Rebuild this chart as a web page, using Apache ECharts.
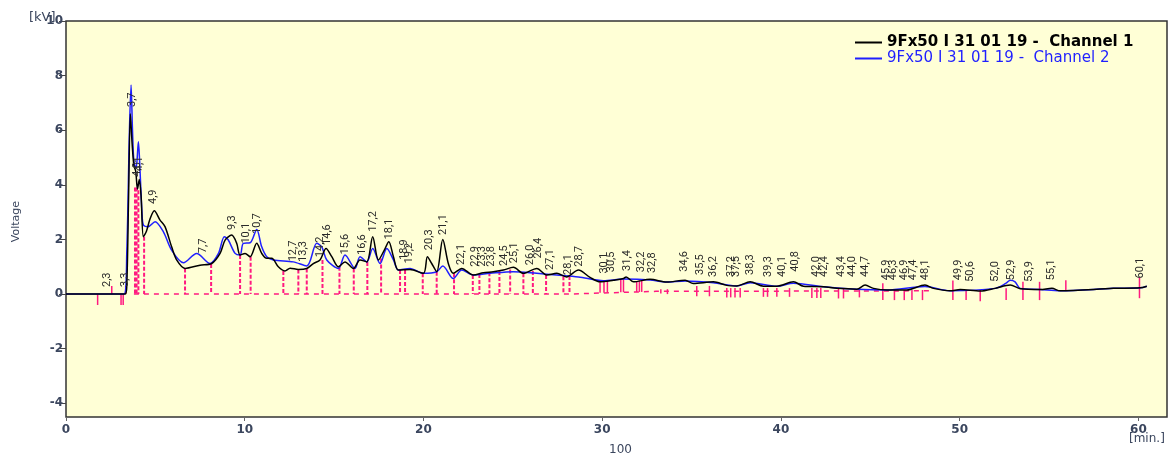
<!DOCTYPE html>
<html>
<head>
<meta charset="utf-8">
<script src="https://cdn.jsdelivr.net/npm/echarts@6/dist/echarts.min.js"></script>
<style>
html,body{margin:0;padding:0;background:#fff;}
#chart{width:1170px;height:453px;}
</style>
</head>
<body>
<div id="chart"></div>
<script>
// ---- data ----
const seriesNames = ['9Fx50 I 31 01 19 -  Channel 1', '9Fx50 I 31 01 19 -  Channel 2'];

const ch1Time = [0,3.3,3.4,3.5,3.6,3.7,3.8,3.9,4.0,4.1,4.2,4.33,4.5,4.7,4.94,5.26,5.54,5.91,6.19,6.66,7.5,8.15,8.62,8.9,9.27,9.55,9.74,10.02,10.3,10.67,10.95,11.23,11.51,11.88,12.25,12.54,13.0,13.47,13.84,14.21,14.55,14.87,15.24,15.61,16.08,16.45,16.83,17.16,17.48,17.81,18.06,18.32,18.6,19.25,20.0,20.22,20.46,20.74,21.08,21.39,21.67,22.14,22.79,23.35,23.91,24.47,25.03,25.59,26.34,26.9,27.46,28.0,28.67,29.32,29.88,30.63,31.19,31.34,31.75,32.68,33.61,34.64,35.1,36.22,36.97,37.53,38.28,39.02,39.77,40.7,41.26,42.38,43.13,44.25,44.71,45.18,45.93,47.04,48.06,48.53,49.46,50.03,51.15,51.99,52.83,53.39,54.5,55.16,55.62,58.6,60.1,60.47];
const ch1Volt = [0,0,0.3,3.5,6.6,5.5,4.7,4.5,3.85,4.2,3.6,2.1,2.3,2.75,3.05,2.71,2.47,1.73,1.25,0.94,1.06,1.12,1.49,1.98,2.16,1.86,1.43,1.49,1.37,1.86,1.49,1.31,1.31,1.0,0.85,0.95,0.9,0.94,1.12,1.25,1.67,1.37,1.0,1.18,0.94,1.25,1.18,2.1,1.25,1.61,1.92,1.37,0.88,0.9,0.76,1.37,1.12,0.82,2.0,1.12,0.76,0.94,0.7,0.78,0.82,0.88,0.98,0.76,0.94,0.7,0.76,0.63,0.88,0.61,0.45,0.51,0.57,0.63,0.45,0.54,0.44,0.51,0.39,0.45,0.32,0.3,0.45,0.29,0.29,0.45,0.29,0.27,0.21,0.18,0.33,0.21,0.15,0.15,0.33,0.21,0.12,0.17,0.11,0.21,0.33,0.2,0.17,0.21,0.12,0.21,0.23,0.29];

const ch2Time = [0,3.25,3.4,3.55,3.64,3.72,3.8,3.92,4.05,4.14,4.25,4.33,4.6,4.98,5.45,5.91,6.57,7.31,8.06,8.53,8.86,9.08,9.46,9.74,9.92,10.3,10.67,10.95,11.23,11.6,12.72,13.47,14.03,14.31,14.59,15.24,15.61,16.17,16.45,16.83,17.16,17.57,17.95,18.32,18.6,19.25,20.0,20.74,21.08,21.67,22.14,22.79,23.73,25.03,26.34,27.46,28.67,30.07,31.19,32.68,33.61,34.64,36.22,37.53,38.28,39.77,40.7,42.38,44.25,45.93,48.06,49.46,51.99,52.6,52.83,53.1,53.39,54.5,55.62,58.6,60.1,60.47];
const ch2Volt = [0,0,1.5,6.0,7.66,6.0,4.85,4.6,5.58,4.54,3.0,2.53,2.47,2.65,2.28,1.61,1.15,1.49,1.12,1.49,2.1,1.98,1.49,1.43,1.86,1.88,2.37,1.73,1.37,1.25,1.18,1.03,1.86,1.73,1.25,0.94,1.43,0.94,1.37,1.18,1.67,1.12,1.67,1.25,0.88,0.94,0.76,0.82,1.03,0.57,0.88,0.7,0.76,0.82,0.76,0.7,0.63,0.49,0.55,0.52,0.44,0.48,0.42,0.3,0.42,0.29,0.4,0.27,0.18,0.15,0.28,0.12,0.21,0.4,0.51,0.45,0.21,0.17,0.12,0.21,0.23,0.29];

// peak retention-time labels and the level at which each label starts
const peakTimes = [2.3,3.3,3.7,4.0,4.1,4.9,7.7,9.3,10.1,10.7,12.7,13.3,14.2,14.6,15.6,16.6,17.2,18.1,18.9,19.2,20.3,21.1,22.1,22.9,23.3,23.8,24.5,25.1,26.0,26.4,27.1,28.1,28.7,30.1,30.5,31.4,32.2,32.8,34.6,35.5,36.2,37.2,37.5,38.3,39.3,40.1,40.8,42.0,42.4,43.4,44.0,44.7,45.9,46.3,46.9,47.4,48.1,49.9,50.6,52.0,52.9,53.9,55.1,60.1];
const peakLabelLevel = [0.26,0.26,6.85,4.3,4.5,3.3,1.5,2.35,1.85,2.2,1.2,1.18,1.35,1.8,1.45,1.43,2.28,2.0,1.25,1.12,1.61,2.16,1.07,1.0,1.0,1.0,1.03,1.13,1.06,1.3,0.88,0.7,1.0,0.75,0.8,0.85,0.8,0.77,0.82,0.7,0.63,0.63,0.63,0.7,0.63,0.63,0.82,0.63,0.63,0.63,0.63,0.63,0.51,0.51,0.51,0.51,0.51,0.51,0.45,0.45,0.51,0.45,0.51,0.57];

// peak boundary markers: time, top level, bottom level, dashed (1) or solid (0)
const markTimes  = [1.77,2.56,3.08,3.2,3.34,3.86,3.95,4.05,4.37,6.66,8.12,9.74,10.33,12.16,13.0,13.47,14.35,15.3,16.1,16.86,17.63,18.69,18.97,19.96,20.74,21.71,22.76,23.13,23.69,24.25,24.85,25.59,26.12,26.86,27.83,28.17,29.88,30.1,30.29,31.04,31.19,31.93,32.08,32.21,33.28,33.65,35.29,36.0,36.97,37.19,37.43,37.72,39.02,39.25,39.77,40.48,41.73,42.01,42.23,43.22,43.5,44.39,45.7,46.35,46.9,47.33,47.92,49.62,50.36,51.15,52.6,53.54,54.47,55.94,60.06];
const markTop    = [0,0.3,0,0,0.3,3.9,3.9,3.8,2.1,0.94,1.1,1.43,1.37,0.85,0.9,0.94,1.25,1.0,0.94,1.18,1.3,0.88,0.88,0.76,0.82,0.76,0.7,0.74,0.8,0.85,0.9,0.76,0.85,0.7,0.65,0.66,0.45,0.47,0.48,0.55,0.57,0.48,0.5,0.5,0.18,0.18,0.3,0.3,0.22,0.22,0.22,0.22,0.22,0.22,0.22,0.22,0.22,0.22,0.22,0.22,0.22,0.22,0.4,0.15,0.15,0.15,0.15,0.5,0.15,0.15,0.21,0.45,0.45,0.51,0.62];
const markBottom = [-0.4,0,-0.4,-0.4,0,0,0,0,0,0,0,0,0,0,0,0,0,0,0,0,0,0,0,0,0,0,0,0,0,0,0,0,0,0,0,0,0.05,0.05,0.05,0.07,0.07,0.08,0.08,0.08,0.02,0.0,-0.08,-0.08,-0.12,-0.12,-0.12,-0.12,-0.1,-0.1,-0.1,-0.1,-0.14,-0.14,-0.14,-0.16,-0.16,-0.12,-0.22,-0.22,-0.22,-0.22,-0.22,-0.22,-0.22,-0.26,-0.22,-0.22,-0.22,0.12,-0.15];
const markDashed = [0,0,0,0,0,1,1,1,1,1,1,1,1,1,1,1,1,1,1,1,1,1,1,1,1,1,1,1,1,1,1,1,1,1,1,1,0,0,0,0,0,0,0,0,0,0,0,0,0,0,0,0,0,0,0,0,0,0,0,0,0,0,0,0,0,0,0,0,0,0,0,0,0,0,0];

// integration baseline
const baseTime  = [3.8,28,33,48.5];
const baseLevel = [0,0,0.1,0.12];

// axis ticks
const xTicks = [0,10,20,30,40,50,60];
const yTicks = [-4,-2,0,2,4,6,8,10];

// ---- chart ----
const pink = '#ff1a80';
const axisColor = '#3b465e';
const chart = echarts.init(document.getElementById('chart'), null, {renderer:'canvas'});

const pair = (a,b) => a.map((t,i)=>[t,b[i]]);

const option = {
  animation: false,
  backgroundColor: '#ffffff',
  grid: {left:66, top:21, right:3, bottom:36, show:true, outerBoundsMode:'none', containLabel:false,
         backgroundColor:'#ffffd6', borderColor:'#333', borderWidth:1.5},
  legend: {
    orient:'vertical', left:849, top:30, itemWidth:27, itemHeight:12, itemGap:1,
    itemStyle:{opacity:0},
    data:[
      {name: seriesNames[0], textStyle:{fontWeight:'bold', color:'#000'}},
      {name: seriesNames[1], textStyle:{fontWeight:'normal', color:'#1f1fff'}}
    ],
    textStyle:{fontFamily:'DejaVu Sans', fontSize:15}
  },
  xAxis: {
    type:'value', min:0, max:61.6,
    axisLine:{show:false, onZero:false},
    axisTick:{show:true, length:4, customValues:xTicks, lineStyle:{color:'#666'}},
    axisLabel:{customValues:xTicks, color:axisColor, fontWeight:'bold', fontFamily:'DejaVu Sans', fontSize:12, margin:7},
    splitLine:{show:false}
  },
  yAxis: {
    type:'value', min:-4.5, max:10,
    axisLine:{show:false},
    axisTick:{show:true, length:7, customValues:yTicks, lineStyle:{color:'#444'}},
    axisLabel:{customValues:yTicks, color:axisColor, fontWeight:'bold', fontFamily:'DejaVu Sans', fontSize:12, margin:3},
    splitLine:{show:false}
  },
  graphic: [
    {type:'text', left:29, top:11, style:{text:'[kV]', fill:axisColor, font:'13px "DejaVu Sans"'}},
    {type:'text', left:1129, top:433, style:{text:'[min.]', fill:axisColor, font:'12px "DejaVu Sans"'}},
    {type:'text', left:11, top:201, rotation:Math.PI/2, style:{text:'Voltage', fill:axisColor, font:'11px "DejaVu Sans"'}},
    {type:'text', left:609, top:444, style:{text:'100', fill:axisColor, font:'12px "DejaVu Sans"'}}
  ],
  series: [
    {
      name:'baseline', type:'line', data:pair(baseTime, baseLevel), symbol:'none', silent:true, z:1,
      lineStyle:{color:pink, width:1.5, type:[5,5]}
    },
    {
      name:'markers', type:'custom', z:1, silent:true,
      data: markTimes.map((t,i)=>[t, markTop[i], markBottom[i], markDashed[i]]),
      encode:{x:0, y:[1,2]},
      renderItem:function(params, api){
        const p1 = api.coord([api.value(0), api.value(1)]);
        const p2 = api.coord([api.value(0), api.value(2)]);
        const dashed = api.value(3) === 1;
        return {type:'line', shape:{x1:p1[0], y1:p1[1], x2:p2[0], y2:p2[1]},
          style:{stroke:pink, lineWidth: dashed ? 2 : 1.5, lineDash: dashed ? [4,2] : null}};
      }
    },
    {
      name:seriesNames[1], type:'line', data:pair(ch2Time, ch2Volt), symbol:'none', smooth:0.3, z:2,
      lineStyle:{color:'#1f1fff', width:1.5}, itemStyle:{color:'#1f1fff'}
    },
    {
      name:seriesNames[0], type:'line', data:pair(ch1Time, ch1Volt), symbol:'none', smooth:0.3, z:3,
      lineStyle:{color:'#000', width:1.5}, itemStyle:{color:'#000'}
    },
    {
      name:'peakLabels', type:'custom', z:4, silent:true,
      data: peakTimes.map((t,i)=>[t, peakLabelLevel[i]]),
      encode:{x:0, y:1},
      renderItem:function(params, api){
        const p = api.coord([api.value(0), api.value(1)]);
        const txt = peakTimes[params.dataIndex].toFixed(1).replace('.', ',');
        return {type:'text', x:p[0], y:p[1], rotation:Math.PI/2,
          style:{text:txt, fill:'#2a2a2a', font:'11px Roboto', align:'left', verticalAlign:'middle'}};
      }
    }
  ]
};
chart.setOption(option);
</script>
</body>
</html>
